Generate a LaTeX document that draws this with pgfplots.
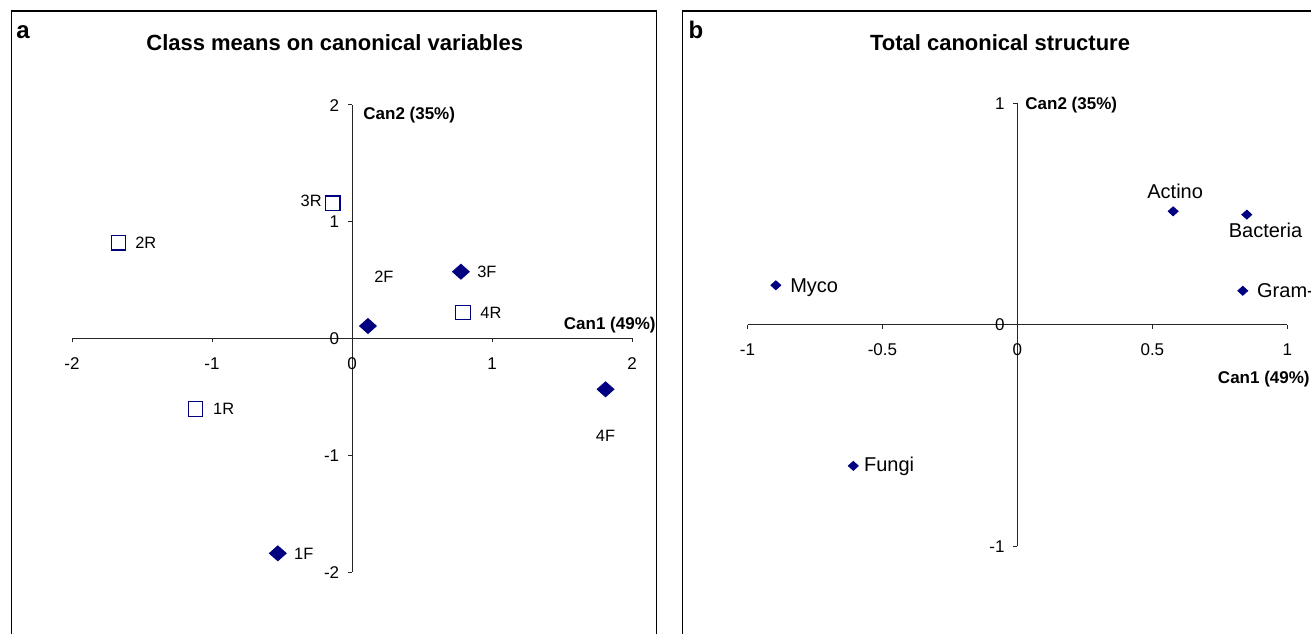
\documentclass[border=0pt]{standalone}
\usepackage{pgfplots}
\pgfplotsset{compat=1.18}
\usepackage{fontspec}
\setmainfont{Liberation Sans}
\definecolor{navy}{RGB}{0,0,128}
\begin{document}
\begin{tikzpicture}
\useasboundingbox (0,0) rectangle (655.5pt,316.5pt);
\clip (0,0) rectangle (655.5pt,316.5pt);
\tikzset{
  lbla/.style={font=\fontsize{8.2}{9}\selectfont, inner sep=0pt, text height=5.9pt, text depth=0pt},
  lblb/.style={font=\fontsize{10}{12}\selectfont, inner sep=0pt, text height=7.2pt, text depth=0pt},
  axt/.style={font=\bfseries\fontsize{8.5}{10}\selectfont, inner sep=0pt, text height=6.1pt, text depth=0pt},
  ttl/.style={font=\bfseries\fontsize{11}{13}\selectfont, inner sep=0pt, text height=7.9pt, text depth=0pt},
}
% panel frames
\draw[line width=0.8pt] (5.7pt,-20pt) -- (5.7pt,311pt) -- (328.15pt,311pt) -- (328.15pt,-20pt);
\draw[line width=0.8pt] (341.15pt,-20pt) -- (341.15pt,311pt) -- (690pt,311pt);
% panel letters and titles
\node[font=\bfseries\fontsize{12}{14}\selectfont, inner sep=0pt] at (11.5pt,300.5pt) {a};
\node[font=\bfseries\fontsize{12}{14}\selectfont, inner sep=0pt] at (348pt,301.5pt) {b};
\node[ttl] at (167.35pt,295pt) {Class means on canonical variables};
\node[ttl] at (500pt,295pt) {Total canonical structure};
% axis titles
\node[axt, anchor=west] at (181.5pt,260pt) {Can2 (35\%)};
\node[axt, anchor=east] at (328pt,155pt) {Can1 (49\%)};
\node[axt, anchor=west] at (512.5pt,265pt) {Can2 (35\%)};
\node[axt, anchor=east] at (655pt,127.65pt) {Can1 (49\%)};

\pgfplotsset{
  myax/.style={
    axis lines=middle, enlargelimits=false, clip=false,
    axis line style={-, line width=0.5pt, black!85},
    every inner x axis line/.append style={-},
    every inner y axis line/.append style={-},
    hide obscured x ticks=false, hide obscured y ticks=false,
    tick align=outside, major tick length=2pt,
    tick style={black!85, line width=0.5pt},
    ticklabel style={font=\fontsize{8.5}{10}\selectfont, inner sep=0pt, text height=6.1pt, text depth=0pt},
    xticklabel style={anchor=north, yshift=-7.2pt},
    yticklabel style={anchor=east, xshift=-4.2pt},
  }
}
% ---------------- panel a
\begin{axis}[myax,
  at={(36pt,30.5pt)}, anchor=south west,
  x=70pt, y=58.375pt,
  xmin=-2, xmax=2, ymin=-2, ymax=2,
  xtick={-2,-1,0,1,2}, xticklabels={-2,-1,0,1,2},
  ytick={-2,-1,0,1,2}, yticklabels={-2,-1,0,1,2},
]
\addplot[only marks, mark=diamond*, mark size=3.75pt, color=navy, mark options={xscale=1.5}]
  coordinates {(-0.530,-1.840) (0.114,0.107) (0.778,0.572) (1.811,-0.435)};
\addplot[only marks, mark=square, mark size=3.6pt, color=navy, mark options={line width=0.6pt, fill=white}]
  coordinates {(-1.119,-0.604) (-1.669,0.820) (-0.137,1.158) (0.793,0.221)};
\node[lbla, anchor=west, xshift=8pt] at (axis cs:-0.530,-1.840) {1F};
\node[lbla, anchor=west, xshift=3pt, yshift=24.5pt] at (axis cs:0.114,0.107) {2F};
\node[lbla, anchor=west, xshift=8pt] at (axis cs:0.778,0.572) {3F};
\node[lbla, yshift=-23pt] at (axis cs:1.811,-0.435) {4F};
\node[lbla, anchor=west, xshift=8.7pt] at (axis cs:-1.119,-0.604) {1R};
\node[lbla, anchor=west, xshift=8.3pt] at (axis cs:-1.669,0.820) {2R};
\node[lbla, anchor=east, xshift=-5.4pt, yshift=1.5pt] at (axis cs:-0.137,1.158) {3R};
\node[lbla, anchor=west, xshift=8.5pt] at (axis cs:0.793,0.221) {4R};
\end{axis}
% ---------------- panel b
\begin{axis}[myax,
  at={(373.75pt,43.5pt)}, anchor=south west,
  x=134.95pt, y=110.675pt,
  xmin=-1, xmax=1, ymin=-1, ymax=1,
  xtick={-1,-0.5,0,0.5,1}, xticklabels={-1,-0.5,0,0.5,1},
  ytick={-1,0,1}, yticklabels={-1,0,1},
]
\addplot[only marks, mark=diamond*, mark size=2.25pt, color=navy, mark options={xscale=1.48}]
  coordinates {(-0.895,0.178) (0.577,0.512) (0.850,0.497) (0.835,0.153) (-0.608,-0.638)};
\node[lblb, anchor=west, xshift=7pt] at (axis cs:-0.895,0.178) {Myco};
\node[lblb, xshift=1pt, yshift=9.85pt] at (axis cs:0.577,0.512) {Actino};
\node[lblb, xshift=9.35pt, yshift=-8pt] at (axis cs:0.850,0.497) {Bacteria};
\node[lblb, anchor=west, xshift=7pt] at (axis cs:0.835,0.153) {Gram-};
\node[lblb, anchor=west, xshift=5.2pt, yshift=1pt] at (axis cs:-0.608,-0.638) {Fungi};
\end{axis}
\end{tikzpicture}
\end{document}
